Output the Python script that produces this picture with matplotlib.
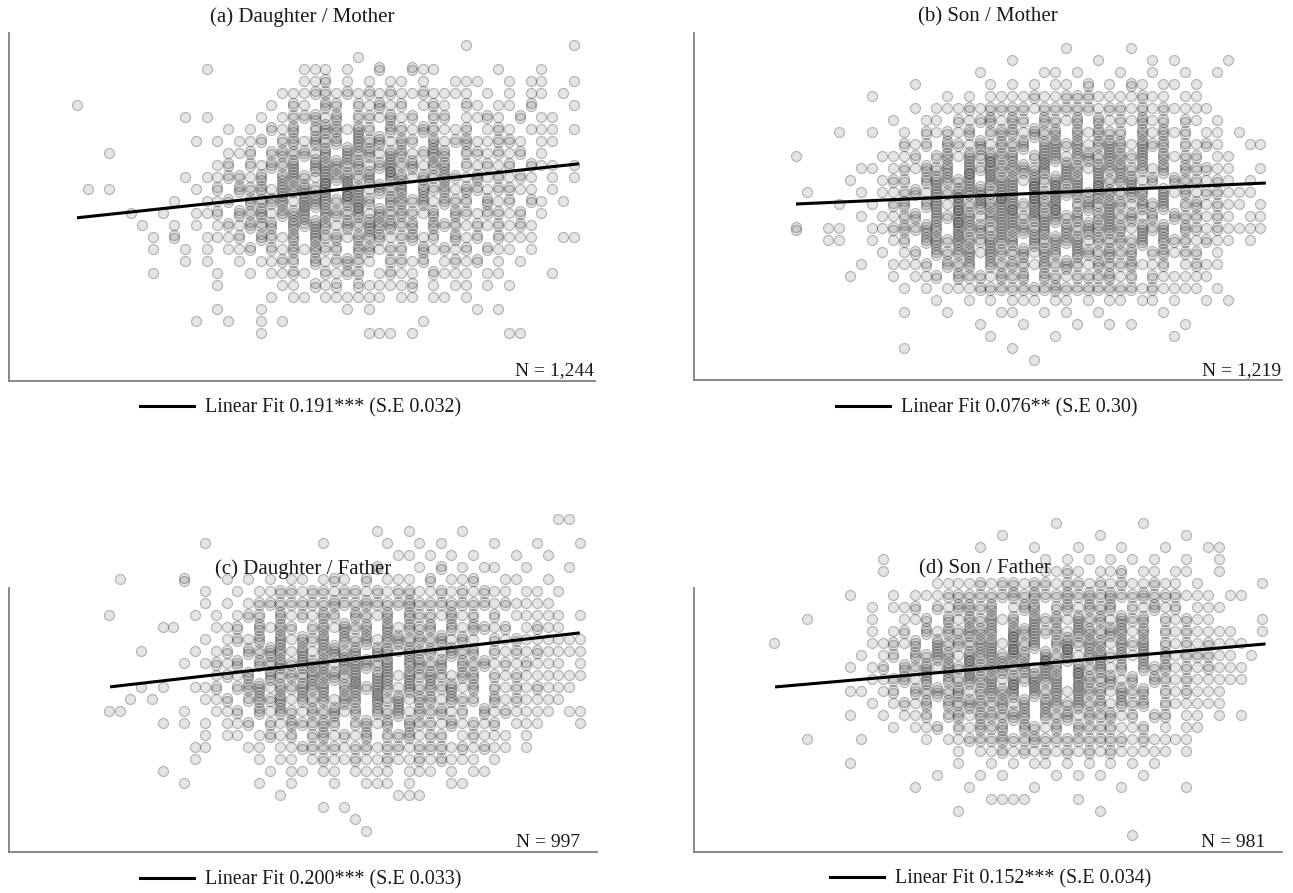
import numpy as np
import matplotlib.pyplot as plt
from matplotlib.lines import Line2D

plt.rcParams['font.family'] = ['Liberation Serif', 'DejaVu Serif']

titles = ["(a) Daughter / Mother", "(b) Son / Mother",
          "(c) Daughter / Father", "(d) Son / Father"]
n_labels = ["N = 1,244", "N = 1,219", "N = 997", "N = 981"]
fit_labels = ["Linear Fit 0.191*** (S.E 0.032)", "Linear Fit 0.076** (S.E 0.30)",
              "Linear Fit 0.200*** (S.E 0.033)", "Linear Fit 0.152*** (S.E 0.034)"]

# fitted line in grid units (x = parent column, y = -child row)
fit_intercept = [-14.4, -13.0, -14.0, -13.67]
fit_slope = [0.0968, 0.0402, 0.1025, 0.0793]
fit_xmin = [0.0, 0.0, 0.1, 0.1]
fit_xmax = [46.5, 43.5, 44.0, 45.3]

# respondents per cell: one string per row (top to bottom),
# one digit per parent column (left to right)
grid_a = [
    "0000000000 0000000000 0000000000 0000001000 0000001",
    "0000000000 0000000000 0000001000 0000000000 0000000",
    "0000000000 0010000000 0111010020 0211000001 0001000",
    "0000000000 0000000000 0112010101 1010011100 1011001",
    "0000000000 0000000001 1122121212 1121111010 1011010",
    "1000000000 0000000010 2103202131 2012102101 1020001",
    "0000000000 1010000101 2231302213 1202201121 0201100",
    "0000000000 0000101021 3024313203 2132112012 1011101",
    "0000000000 0101011202 3142305241 3203123112 2101100",
    "0001000000 0000112023 2314052413 3124302212 1201000",
    "0000000000 0001202132 4053424135 2413302121 2021101",
    "0000000000 1011221303 4215342504 3132421312 1210101",
    "0101000000 0102032314 3425053142 4032313212 2110100",
    "0000000001 0011203234 1453245304 3241322031 2021010",
    "0000010010 0112032413 3504324142 3213032122 1201000",
    "0000001001 0101213230 4243142534 2303221212 1210000",
    "0000000102 0011120321 3042313231 2312031202 1110011",
    "0000000100 1010112021 3132203312 2031212021 1010000",
    "0000000000 1010010112 2031232102 2120121201 0100000",
    "0000000100 0001001011 2102122012 1102111011 0000100",
    "0000000000 0001000001 1021202111 1201011010 1000000",
    "0000000000 0000000010 1101111110 1101101000 0000000",
    "0000000000 0001000100 0000010100 0000000101 0000000",
    "0000000000 0100100101 0000000000 0010000000 0000000",
    "0000000000 0000000100 0000000111 0100000000 1100000",
]

grid_b = [
    "0000000000 0000000000 0000010000 0100000000 0000",
    "0000000000 0000000000 1000000010 0001010000 1000",
    "0000000000 0000000100 0001101000 1001001001 0000",
    "0000000000 0100000010 1010110201 0210110100 0000",
    "0000000100 0000101011 1121122211 1121101100 0000",
    "0000000000 0101112122 2212222212 2121211110 0000",
    "0000000001 0011021231 3203213031 2131202101 0000",
    "0000100100 1021213023 3142303132 2031312011 0100",
    "0000000000 2120321413 2403424134 3142302121 0011",
    "1000000011 1202314243 4025413424 3240312201 1000",
    "0000001101 2132404253 3424053143 4231403221 1001",
    "0000010012 2034325043 4152434042 3413032212 1010",
    "0100001011 2314243525 4052534153 2430413122 1110",
    "0000100102 3034152435 4253402524 3142402312 1101",
    "0000001011 2304254143 5243524034 2413032212 1011",
    "2001100112 3243053425 3425042534 3142403212 1111",
    "0001100101 2034243243 4052434132 3240322121 1010",
    "0000000010 1203234143 2414304324 2302312201 0000",
    "0000001001 1120323032 3213242132 2311201211 0000",
    "0000010001 0112032213 2303212223 1202111110 0000",
    "0000000000 1010111222 2222322222 2212111101 0000",
    "0000000000 0001001010 1110110101 1011010010 1000",
    "0000000000 1000100001 1001010010 0000100000 0000",
    "0000000000 0000000100 0100001001 0100001000 0000",
    "0000000000 0000000010 0000100000 0000010000 0000",
    "0000000000 1000000000 1000000000 0000000000 0000",
    "0000000000 0000000000 0010000000 0000000000 0000",
]

grid_c = [
    "0000000000 0000000000 0000000000 0000000000 00110",
    "0000000000 0000000000 0000010010 0001000000 00000",
    "0000000001 0000000000 1000001001 0100001000 10001",
    "0000000000 0000000000 0000000110 1010100010 01000",
    "0000000000 0000000000 0000020001 0201011001 00010",
    "0100000200 0101010110 1210201110 2011200110 01000",
    "0000000001 0010112212 2122121221 1212121101 10100",
    "0000000001 0101222222 2322322232 2222221211 11000",
    "1000000010 1012203121 3203213032 2131202011 11101",
    "0000011000 1120313202 3142304132 3031321201 21100",
    "0000000001 0121304132 4032413423 2413102121 11111",
    "0001000010 1203243141 3524043142 3142302121 21111",
    "0000000101 2130324243 4153424034 2403231212 11101",
    "0000000000 1213042324 3425034142 4213302121 11111",
    "0001010011 2023413243 4034253142 3241302121 21110",
    "0010100001 1202324132 3143042413 3132203121 11100",
    "1100000100 1120313213 2413032413 2312031211 11011",
    "0000010101 0112021322 3202313032 2131212011 10001",
    "0000000001 0110121202 3121302231 2201211101 00000",
    "0000000011 0001101122 2212212212 2212121101 00000",
    "0000000010 0000101101 2112112112 1211101000 00000",
    "0000010000 0000010110 1101111011 1010110000 00000",
    "0000000100 0000100100 0100111010 0011000000 00000",
    "0000000000 0000001000 0000000111 0000000000 00000",
    "0000000000 0000000000 1010000000 0000000000 00000",
    "0000000000 0000000000 0001000000 0000000000 00000",
    "0000000000 0000000000 0000100000 0000000000 00000",
]

grid_d = [
    "0000000000 0000000000 0000001000 0000100000 000000",
    "0000000000 0000000000 0100000000 1000000010 000000",
    "0000000000 0000000001 0000100010 0010001000 110000",
    "0000000000 1000000000 0000010101 0101010010 010000",
    "0000000000 1000000000 0000011210 1120110110 010000",
    "0000000000 0000011112 1221221221 2121121101 000001",
    "0000000100 0101112222 2232322323 2322322211 101100",
    "0000000001 0112021332 3013302313 2302131201 110000",
    "0001000001 0011203132 4130423142 3142302121 100001",
    "0000000001 0120313243 3043423143 2431302121 111001",
    "1000000001 1213042324 4152403524 3142402121 211100",
    "0000000010 1203243143 4253042513 4231403122 211010",
    "0000000101 2032414253 3524153042 4130323121 211100",
    "0000000001 1231403243 4142534053 2413032121 111100",
    "0000000110 1203242413 4350424143 3142302121 110000",
    "0000000001 0121303243 2414043242 3132302111 110000",
    "0000000100 1011202313 3243032413 2312022011 010100",
    "0000000000 0101120213 2303213032 2211201011 000000",
    "0001000010 0000101122 2322322222 2221211110 000000",
    "0000000000 0000000101 1212121212 1211111010 000000",
    "0000000100 0000000100 1010110101 0101010000 000000",
    "0000000000 0000010001 0100001010 1000100000 000000",
    "0000000000 0001000010 0000100000 0010000010 000000",
    "0000000000 0000000000 1111000010 0000000000 000000",
    "0000000000 0000000100 0000000000 1000000000 000000",
    "0000000000 0000000000 0000000000 0000000000 000000",
    "0000000000 0000000000 0000000000 0001000000 000000",
]
grids = [grid_a, grid_b, grid_c, grid_d]

# layout in pixels: axes box, first column, column step, first row, row step, top of left spine
W, H = 1293, 893
boxes = [(9, 33, 595, 381), (694, 33, 1282, 380), (9, 505, 597, 852), (694, 505, 1282, 852)]
col0 = [77, 796, 109, 774]
dxs = [10.8, 10.8, 10.7, 10.85]
row0 = [45, 48, 519, 523]
dys = [12, 12, 12, 12]
spine_top = [33, 33, 588, 588]
title_xy = [(302, 17), (988, 17), (303, 569), (985, 569)]
n_xy = [(594, 375), (1281, 375), (580, 847), (1265, 847)]
leg_xy = [(140, 408), (836, 408), (140, 880), (830, 879)]


def cells_to_points(grid):
    xs, ys = [], []
    for r, line in enumerate(grid):
        for c, ch in enumerate(line.replace(" ", "")):
            k = int(ch)
            for i in range(k):
                xs.append(c)
                ys.append(-(r + (i - (k - 1) / 2) * 0.25))
    return np.array(xs), np.array(ys)


fig = plt.figure(figsize=(W / 100, H / 100), dpi=100)

for p in range(4):
    L, T, R, B = boxes[p]
    ax = fig.add_axes([L / W, 1 - B / H, (R - L) / W, (B - T) / H])

    def px(x, y):
        return (x - L) / (R - L), (B - y) / (B - T)

    ax.set_xlim((L - col0[p]) / dxs[p], (R - col0[p]) / dxs[p])
    ax.set_ylim(-(B - row0[p]) / dys[p], -(T - row0[p]) / dys[p])

    x, y = cells_to_points(grids[p])
    ax.scatter(x, y, s=52, facecolor=(0, 0, 0, 0.10), edgecolor=(0, 0, 0, 0.26),
               linewidth=0.85, clip_on=False, zorder=2)

    fx = np.array([fit_xmin[p], fit_xmax[p]])
    ax.plot(fx, fit_intercept[p] + fit_slope[p] * fx, color="black", lw=2.2,
            solid_capstyle="butt", zorder=3)

    for s in ["top", "right"]:
        ax.spines[s].set_visible(False)
    for s in ["left", "bottom"]:
        ax.spines[s].set_color("#808080")
        ax.spines[s].set_linewidth(1.3)
    ax.spines["left"].set_bounds(ax.get_ylim()[0], -(spine_top[p] - row0[p]) / dys[p])
    ax.set_xticks([])
    ax.set_yticks([])
    ax.patch.set_alpha(0)

    tx, ty = px(*title_xy[p])
    ax.text(tx, ty, titles[p], transform=ax.transAxes, ha="center", va="center",
            fontsize=15, color="#1a1a1a")
    nx, ny = px(*n_xy[p])
    ax.text(nx, ny, n_labels[p], transform=ax.transAxes, ha="right", va="baseline",
            fontsize=14, color="#1a1a1a")

    lx, ly = px(*leg_xy[p])
    ax.legend([Line2D([], [], color="black", lw=2.2)], [fit_labels[p]],
              loc="center left", bbox_to_anchor=(lx, ly), frameon=False,
              handlelength=2.7, handletextpad=0.55, borderpad=0, borderaxespad=0,
              fontsize=14.4, labelcolor="#1a1a1a")

fig.savefig("out.png", dpi=100, facecolor="white")
